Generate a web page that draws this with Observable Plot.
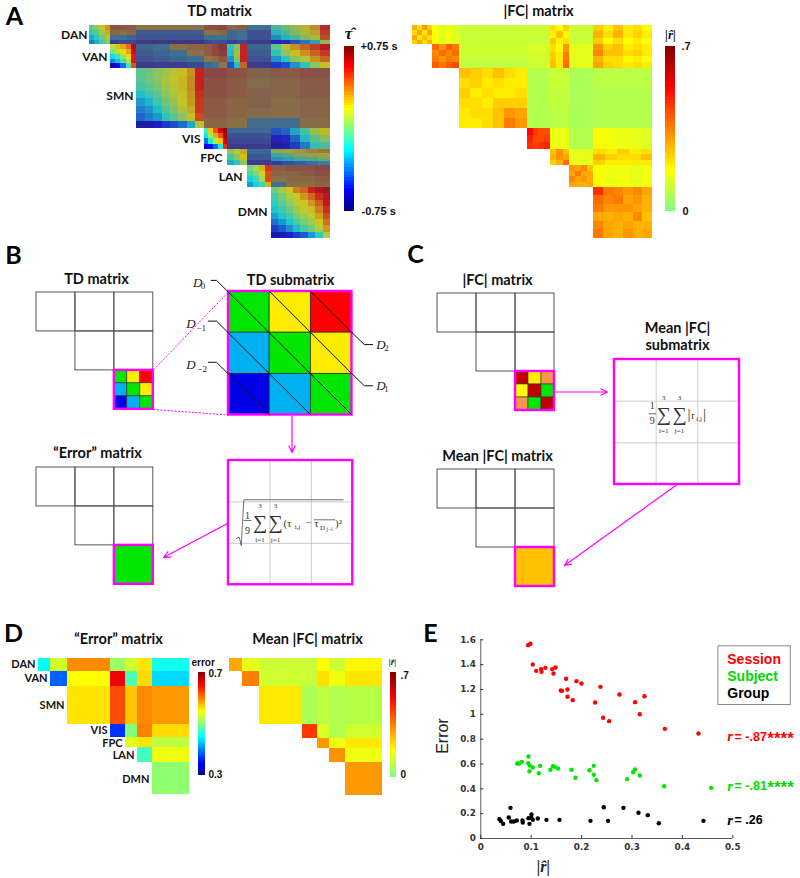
<!DOCTYPE html>
<html><head><meta charset="utf-8">
<style>html,body{margin:0;padding:0;background:#fff}#page{position:relative;width:800px;height:878px;overflow:hidden;background:#fff}</style>
<script src="https://cdn.jsdelivr.net/npm/d3@7"></script>
<script src="https://cdn.jsdelivr.net/npm/@observablehq/plot@0.6"></script>
</head><body><div id="page"></div>
<script>
// ---------- networks ----------
const netNames = ["DAN","VAN","SMN","VIS","FPC","LAN","DMN"];
const netSizes = [29,37,93,33,26,33,82];

// ---------- A: TD matrix, coarse values read per block (seconds); each row lists blocks from the diagonal rightwards ----------
const tdDAN = [
 [[-.05,.05,.2,.3],[-.15,-.05,.1,.25],[-.25,-.15,0,.15],[-.35,-.25,-.1,.05]],
 [[.45,.45,.4],[.35,.3,.35],[-.3,-.3,-.35],[-.55,-.5,-.5]],
 [[.3],[-.4],[-.45],[-.65]],
 [[.45,.45,.5],[.3,.3,.35],[-.3,-.3,-.3],[-.5,-.45,-.45]],
 [[.35,.4],[-.35,-.3],[-.35,-.3],[-.55,-.5]],
 [[-.3],[-.45],[-.45],[-.6]],
 [[-.1,0,.1,.2,.3,.55],[-.2,-.1,.05,.15,.25,.5],[-.3,-.2,-.1,.05,.15,.45],[-.6,-.55,-.45,-.35,-.25,.1]]
];
const tdVAN = [
 [[.1,.25,.3,.4,.65],[0,.1,.2,.3,.6],[-.2,-.1,.05,.2,.55],[-.35,-.25,-.1,.1,.55],[-.65,-.6,-.4,-.1,.45]],
 [[-.35,-.3,.3,.35],[-.4,-.35,-.3,.3],[-.45,-.4,-.35,-.3],[-.6,-.55,-.55,-.5]],
 [[.4,.5,.62],[.4,.5,.55],[.3,.35,.45],[-.35,-.3,.3]],
 [[-.15,.05,.55],[-.2,.1,.55],[-.3,.05,.55],[-.45,-.2,.4]],
 [[-.35],[-.4],[-.45],[-.6]],
 [[-.05,.15,.3,.4,.5,.6],[-.15,.05,.2,.3,.4,.5],[-.3,-.15,.05,.15,.3,.4],[-.5,-.45,-.3,-.15,.05,.2]]
];
const tdSMN = [
 [[-.05,0,.05,.1,.15,.2,.3,.55],[-.05,0,.05,.12,.18,.22,.32,.55],[-.1,-.05,.02,.1,.15,.22,.32,.55],[-.2,-.12,-.05,.05,.12,.2,.3,.52],[-.28,-.22,-.12,0,.08,.18,.28,.5],[-.35,-.3,-.2,-.08,.02,.12,.25,.5],[-.4,-.35,-.28,-.15,-.05,.05,.2,.45],[-.65,-.62,-.58,-.5,-.45,-.38,-.25,.15]],
 [[.5],[.45],[.45],[.4],[.4],[.35]],
 [[.45],[.4],[.4],[.35],[.35],[.3]],
 [[.35],[.3],[.35],[.35],[.3],[-.3]],
 [[.4,.45],[.35,.4],[.35,.4],[.3,.35],[.3,.35],[-.3,.3]]
];
const tdVIS = [
 [[-.1,.25,.45,.6,.72],[-.2,.05,.3,.45,.68],[-.4,-.15,.1,.25,.62],[-.6,-.55,-.4,-.15,.5]],
 [[-.35],[-.45],[-.5],[-.6]],
 [[-.35],[-.45],[-.5],[-.6]],
 [[-.45,-.4,-.25,-.1,.1,.2],[-.6,-.55,-.4,-.2,-.05,.05],[-.65,-.62,-.5,-.35,-.15,-.1]]
];
const tdFPC = [
 [[.05,.15,.25],[-.1,.05,.2],[-.25,-.15,.05]],
 [[-.35],[-.42],[-.55]],
 [[.1,.15,.25,.3,.35],[-.15,-.05,.05,.1,.15],[-.25,-.2,-.1,-.05,.05],[-.5,-.45,-.4,-.35,-.3]]
];
const tdLAN = [
 [[.0,.1,.25,.5],[-.1,0,.2,.45],[-.2,-.1,.1,.45],[-.3,-.2,-.1,.25]],
 [[.4,.45,.45,.5],[.35,.35,.4,.45],[.3,.35,.35,.4],[-.3,.3,.3,.35]]
];
const tdDMN = [
 [[0,.1,.2,.35,.4,.55,.62,.68],[-.1,0,.1,.2,.3,.4,.52,.62],[-.15,-.05,.05,.15,.2,.3,.42,.58],[-.2,-.12,-.02,.08,.15,.22,.35,.52],[-.28,-.2,-.1,0,.08,.15,.28,.45],[-.38,-.3,-.2,-.1,0,.08,.2,.38],[-.48,-.42,-.32,-.22,-.1,0,.12,.3],[-.65,-.62,-.55,-.48,-.42,-.3,-.15,.12]]
];
const tdRows = [tdDAN,tdVAN,tdSMN,tdVIS,tdFPC,tdLAN,tdDMN];
// how clearly a block's mean shows through its cell-level scatter
const tdClarity = [
 [.68,.3,.3,.3,.3,.3,.58],
 [.85,.3,.35,.65,.3,.66],
 [.66,.3,.3,.25,.28],
 [.9,.32,.32,.62],
 [.68,.32,.48],
 [.76,.3],
 [.7]
];

// ---------- A: |FC| matrix, coarse values ----------
const fcDAN = [
 [[.28,.22,.32,.24],[.22,.3,.2,.3],[.3,.2,.26,.22],[.24,.3,.22,.28]],
 [[.17,.13,.16,.13]], [[.1]], [[.1]],
 [[.22,.17,.24],[.19,.26,.17],[.25,.19,.22]],
 [[.1]],
 [[.24,.2,.26,.2,.22,.18],[.28,.22,.28,.2,.24,.2],[.24,.18,.22,.18,.2,.16]]
];
const fcVAN = [
 [[.38,.32,.4,.36],[.34,.38,.34,.38],[.36,.32,.36,.34],[.4,.36,.4,.42]],
 [[.11],[.1],[.09]], [[.12],[.11],[.11]],
 [[.22,.18,.32],[.24,.2,.36],[.26,.2,.38]],
 [[.14]],
 [[.32,.24,.26,.2,.22,.2],[.34,.26,.26,.22,.24,.2],[.28,.22,.22,.18,.2,.18],[.3,.24,.22,.2,.22,.2]]
];
const fcSMN = [
 [[.26,.24,.22,.26,.22,.2],[.22,.24,.2,.22,.2,.2],[.24,.2,.22,.2,.2,.22],[.22,.22,.2,.24,.24,.24],[.2,.22,.22,.26,.32,.3],[.2,.2,.22,.26,.36,.32]],
 [[.07]], [[.1],[.09],[.08]], [[.06]], [[.08],[.07],[.07]]
];
const fcVIS = [
 [[.52,.44,.42,.42],[.48,.42,.42,.44],[.46,.44,.46,.48]],
 [[.15]], [[.07]],
 [[.18,.16,.15,.15,.14,.13]]
];
const fcFPC = [
 [[.26,.32,.26],[.28,.32,.3],[.24,.28,.38]],
 [[.14]],
 [[.22,.2,.24,.2,.22],[.28,.24,.22,.22,.26],[.24,.2,.2,.2,.2]]
];
const fcLAN = [
 [[.32,.3,.34,.26],[.3,.36,.3,.3],[.34,.3,.32,.28],[.3,.28,.28,.3]],
 [[.17,.15,.16,.14,.16]]
];
const fcDMN = [
 [[.46,.36,.34,.32,.34,.3],[.38,.34,.36,.3,.32,.28],[.36,.32,.32,.32,.3,.28],[.3,.28,.3,.28,.34,.26],[.34,.3,.28,.3,.28,.28],[.36,.3,.28,.32,.28,.3]]
];
const fcRows = [fcDAN,fcVAN,fcSMN,fcVIS,fcFPC,fcLAN,fcDMN];

// ---------- D: block means ----------
const errorDAN = [.45,.532,.595,.512,.532,.56,.456];
const errorVAN = [.388,.55,.656,.48,.564,.436];
const errorSMN = [.56,.62,.572,.596,.59];
const errorVIS = [.369,.5,.6,.564];
const errorFPC = [.54,.56,.524];
const errorLAN = [.476,.544];
const errorDMN = [.506];
const meanDAN = [.294,.14,.105,.1,.175,.105,.185];
const meanVAN = [.35,.11,.1,.217,.155,.21];
const meanSMN = [.205,.06,.085,.07,.075];
const meanVIS = [.448,.125,.07,.11];
const meanFPC = [.315,.155,.205];
const meanLAN = [.325,.155];
const meanDMN = [.315];

// ---------- E: scatter ----------
const sessionR = [.0939,.0985,.1032,.1098,.1197,.1204,.1283,.1415,.1481,.1442,.1693,.1898,.1997,.1587,.1614,.172,.2374,.2751,.3062,.3247,.172,.1825,.2269,.2427,.2546,.3155,.3651,.4319];
const sessionE = [1.557,1.568,1.401,1.35,1.364,1.342,1.374,1.364,1.377,1.329,1.286,1.267,1.248,1.192,1.189,1.2,1.221,1.16,1.098,1.146,1.141,1.114,1.095,.972,.945,1.001,.883,.846];
const subjectR = [.0946,.0721,.0761,.0813,.0939,.0972,.1032,.0966,.1151,.1177,.1382,.1429,.1468,.1534,.1799,.1878,.2156,.2242,.2242,.2295,.2903,.3022,.3062,.3155,.3638,.457];
const subjectE = [.66,.604,.604,.617,.607,.588,.572,.542,.526,.585,.553,.583,.577,.564,.553,.489,.55,.585,.513,.47,.478,.534,.556,.507,.421,.408];
const groupR = [.037,.0397,.0443,.0556,.0589,.0602,.0655,.0714,.0827,.0833,.0946,.0966,.1005,.1005,.1032,.1131,.1303,.1561,.2176,.244,.2526,.2831,.3128,.3313,.3532,.4418];
const groupE = [.156,.14,.118,.169,.247,.137,.137,.145,.145,.129,.164,.118,.193,.166,.15,.161,.15,.15,.142,.252,.142,.247,.207,.188,.123,.142];
const legendNames = ["Session","Subject","Group"];
const legendValues = [1.44,1.305,1.165];
const rValues = ["= -.87","= -.81","= .26"];
const rStars = ["****","****",""];
const rHeights = [.82,.425,.15];
const xTicksE = [0,.1,.2,.3,.4,.5];
const yTicksE = [0,.2,.4,.6,.8,1,1.2,1.4,1.6];

// ---------- B / C: schematics ----------
const schemeRows = [0,0,0,1,1,2];
const schemeCols = [0,1,2,1,2,2];
const tdSubColors = ["#00e600","#ffec00","#ff0000","#00b0f0","#00e600","#ffec00","#0000e8","#00b0f0","#00e600"];
const fcSubColors = ["#c00000","#ffec00","#f79646","#ffff00","#c00000","#00e600","#f79646","#00e600","#c00000"];
const errorCellColor = ["#00e600"];
const meanCellColor = ["#ffc000"];
const diagonalPaths = [
 [[-.42,-.27],[-.29,-.27],[3,3]],
 [[-.49,.72],[-.29,.72],[2,3]],
 [[-.49,1.72],[-.29,1.72],[1,3]],
 [[1,0],[3,2],[3.3,2.29],[3.5,2.29]],
 [[2,0],[3,1],[3.3,1.29],[3.5,1.29]]
];
const diagonalLabels = [["D",-.75,-.2],["D",-.91,.78],["D",-.91,1.78],["D",3.7,2.3],["D",3.7,1.3]];
const diagonalSubs = [["0",-.62,-.13],["−1",-.66,.88],["−2",-.64,1.88],["1",3.84,2.38],["2",3.84,1.38]];

// ---------- helpers ----------
const page = document.getElementById("page");
function place(el,left,top){el.style.position="absolute";el.style.left=left+"px";el.style.top=top+"px";el.style.maxWidth="none";el.style.background="transparent";page.appendChild(el);return el;}
const netEdges = [0,...d3.cumsum(netSizes)];
const jetStops = ["#000080","#0000ff","#00ffff","#ffff00","#ff0000","#800000"];
const jetPos = [0,.125,.375,.625,.875,1];
const fullJet = (lo,hi)=>({type:"linear",domain:jetPos.map(t=>lo+t*(hi-lo)),range:jetStops});
const halfJet = (hi)=>({type:"linear",domain:[0,.125,.375,.5].map(t=>t/.5*hi),range:["#80ff80","#ffff00","#ff0000","#800000"]});
function matrixPlot(rows,clarity,color,xPx,yPx,blur){
  const xs=d3.scaleLinear(netEdges,xPx), ys=d3.scaleLinear(netEdges,yPx);
  const cells=[], blocks=[];
  rows.forEach((row,r)=>row.forEach((grid,k)=>{
    const c=r+k;
    blocks.push({x1:xs(netEdges[c]),x2:xs(netEdges[c+1]),y1:ys(netEdges[r]),y2:ys(netEdges[r+1])});
    grid.forEach((line,i)=>line.forEach((v,j)=>cells.push({
      x1:xs(netEdges[c]+netSizes[c]*j/line.length), x2:xs(netEdges[c]+netSizes[c]*(j+1)/line.length),
      y1:ys(netEdges[r]+netSizes[r]*i/grid.length), y2:ys(netEdges[r]+netSizes[r]*(i+1)/grid.length),
      v, o:clarity?clarity[r][k]:1})));
  }));
  const x0=xPx[0],x9=xPx.at(-1),y0=yPx[0],y9=yPx.at(-1);
  const el=Plot.plot({width:x9-x0,height:y9-y0,margin:0,
    x:{domain:[x0,x9],axis:null},
    y:{domain:[y0,y9],reverse:true,axis:null},
    color,opacity:{type:"identity"},
    marks:[
      clarity?Plot.rect(blocks,{x1:"x1",x2:"x2",y1:"y1",y2:"y2",fill:"#5a5464",shapeRendering:"crispEdges"}):null,
      Plot.rect(cells,{x1:"x1",x2:"x2",y1:"y1",y2:"y2",fill:"v",fillOpacity:"o",shapeRendering:"crispEdges"})
    ]});
  if(blur) el.style.filter=`blur(${blur}px)`;
  return place(el,x0,y0);
}
const colorSteps = d3.range(64);
function colorbar(color,lo,hi,left,top,w,h){
  const dv=(hi-lo)/64;
  return place(Plot.plot({width:w,height:h,margin:0,x:{domain:[0,1],axis:null},y:{domain:[lo,hi],axis:null},color,
    marks:[Plot.rect(colorSteps,{x1:0,x2:1,y1:i=>lo+i*dv,y2:i=>lo+(i+1)*dv,fill:i=>lo+(i+.5)*dv,shapeRendering:"crispEdges"})]}),left,top);
}
const outline="#555";
const magenta="#ff00ff";
function subCells(colors){
  const n=Math.sqrt(colors.length);
  return colors.map((c,i)=>({c,x1:(i%n)/n,x2:(i%n+1)/n,y1:Math.floor(i/n)/n,y2:(Math.floor(i/n)+1)/n}));
}
function miniMatrix(colors,left,top,size){
  const cells=schemeRows.map((r,i)=>({r,c:schemeCols[i]}));
  const sub=subCells(colors).map(d=>({...d,x1:2+d.x1,x2:2+d.x2,y1:2+d.y1,y2:2+d.y2}));
  return place(Plot.plot({width:size+8,height:size+8,marginLeft:4,marginRight:4,marginTop:4,marginBottom:4,
    x:{domain:[0,3],axis:null},y:{domain:[0,3],reverse:true,axis:null},
    marks:[
      Plot.rect(cells,{x1:"c",x2:d=>d.c+1,y1:"r",y2:d=>d.r+1,stroke:outline,strokeWidth:1,fill:"none"}),
      Plot.rect(sub,{x1:"x1",x2:"x2",y1:"y1",y2:"y2",fill:"c",stroke:sub.length>1?"#333":"none",strokeWidth:.6}),
      Plot.rect([0],{x1:2,x2:3,y1:2,y2:3,stroke:magenta,strokeWidth:2.4,fill:"none"})
    ]}),left-4,top-4);
}
function gridBox(left,top,size){
  const lines=[1,2];
  return place(Plot.plot({width:size+8,height:size+8,marginLeft:4,marginRight:4,marginTop:4,marginBottom:4,
    x:{domain:[0,3],axis:null},y:{domain:[0,3],reverse:true,axis:null},
    marks:[Plot.ruleX(lines,{y1:0,y2:3,stroke:"#ccc",strokeWidth:1}),Plot.ruleY(lines,{x1:0,x2:3,stroke:"#ccc",strokeWidth:1}),
      Plot.rect([0],{x1:0,x2:3,y1:0,y2:3,stroke:magenta,strokeWidth:2.4,fill:"none"})]}),left-4,top-4);
}

// ---------- A ----------
const tdColor=fullJet(-.75,.75), fcColor=halfJet(.7);
matrixPlot(tdRows,tdClarity,tdColor,[89,109.7,136.3,203.7,227.3,246.7,270.7,330],[25.3,44.7,68.3,128.3,149,165.7,187.3,238.3],.7);
matrixPlot(fcRows,null,fcColor,[412.3,432.3,459.3,527,550.3,569.3,593.3,652.7],[25.3,44.7,68.3,128.3,149,165.7,187.3,238.3],.5);
colorbar(tdColor,-.75,.75,344,46,10,164.7);
colorbar(fcColor,0,.7,665.3,46,10,164.7);

// ---------- D ----------
const asBlocks=rows=>rows.map(r=>r.map(v=>[[v]]));
const errColor=fullJet(.3,.7);
matrixPlot(asBlocks([errorDAN,errorVAN,errorSMN,errorVIS,errorFPC,errorLAN,errorDMN]),null,errColor,[38,50.3,67.3,110,125,137,152.3,189.3],[657.7,670.3,685.3,723.7,737,747,761.3,794.3],.4);
matrixPlot(asBlocks([meanDAN,meanVAN,meanSMN,meanVIS,meanFPC,meanLAN,meanDMN]),null,fcColor,[229,241.7,259.3,302.3,317,329,345,381.7],[657.7,670.3,685.3,723.7,737.7,747.7,761.3,795],.4);
colorbar(errColor,.3,.7,198,671.7,6.7,104);
colorbar(fcColor,0,.7,390,672,6,104.7);

// ---------- B ----------
miniMatrix(tdSubColors,36,291.7,116.8);
miniMatrix(errorCellColor,36,467,116.8);
{
  const sub=subCells(tdSubColors).map(d=>({...d,x1:d.x1*3,x2:d.x2*3,y1:d.y1*3,y2:d.y2*3}));
  const paths=diagonalPaths.flatMap((p,k)=>p.map(([x,y])=>({k,x,y})));
  const size=123.5,mL=50,mT=24;
  place(Plot.plot({width:size+2*mL,height:size+2*mT,marginLeft:mL,marginRight:mL,marginTop:mT,marginBottom:mT,
    x:{domain:[0,3],axis:null},y:{domain:[0,3],reverse:true,axis:null},
    marks:[
      Plot.rect(sub,{x1:"x1",x2:"x2",y1:"y1",y2:"y2",fill:"c",stroke:"#222",strokeWidth:.7}),
      Plot.rect([0],{x1:0,x2:3,y1:0,y2:3,stroke:magenta,strokeWidth:2.4,fill:"none"}),
      Plot.line(paths,{x:"x",y:"y",z:"k",stroke:"#111",strokeWidth:1,curve:"linear"}),
      Plot.text(diagonalLabels,{x:d=>d[1],y:d=>d[2],text:d=>d[0],fontFamily:"Liberation Serif",fontStyle:"italic",fontSize:13,fill:"#222"}),
      Plot.text(diagonalSubs,{x:d=>d[1],y:d=>d[2],text:d=>d[0],fontFamily:"Liberation Serif",fontSize:9,fill:"#222"})
    ]}),228-mL,291-mT);
}
gridBox(227.5,460.3,124.3);

// ---------- C ----------
miniMatrix(fcSubColors,437,293.3,117);
miniMatrix(meanCellColor,437,469,117);
gridBox(613.5,358.5,125);

// ---------- E ----------
{
  const pts=(xs,ys,g)=>xs.map((x,i)=>({x,y:ys[i],g}));
  const data=[...pts(groupR,groupE,"Group"),...pts(subjectR,subjectE,"Subject"),...pts(sessionR,sessionE,"Session")];
  const dark="#333";
  const colors={Session:"#ff0000",Subject:"#00e800",Group:"#000"};
  const textColors=["#ff0000","#00d800","#000"];
  const rows=legendNames.map((n,i)=>({n,c:textColors[i],v:legendValues[i],r:rValues[i],s:rStars[i],h:rHeights[i]}));
  place(Plot.plot({width:380,height:248,marginLeft:60.3,marginRight:67.7,marginTop:9.3,marginBottom:40,
    x:{domain:[0,.5],axis:null},y:{domain:[0,1.6],axis:null},
    marks:[
      Plot.axisX({ticks:xTicksE,tickFormat:d=>d===0?"0":String(d),tickSize:-3,tickPadding:8,fontFamily:"DejaVu Sans",fontWeight:"bold",fontSize:8.8,stroke:dark,fill:dark,label:null}),
      Plot.axisY({ticks:yTicksE,tickFormat:d=>String(d),tickSize:-3,tickPadding:8,fontFamily:"DejaVu Sans",fontWeight:"bold",fontSize:8.8,stroke:dark,fill:dark,label:null}),
      Plot.ruleX([0],{stroke:dark,strokeWidth:.8}),
      Plot.ruleY([0],{stroke:dark,strokeWidth:.8}),
      Plot.dot(data,{x:"x",y:"y",r:2.2,fill:d=>colors[d.g]}),
      Plot.rect([0],{x1:.4715,x2:.615,y1:1.075,y2:1.548,fill:"#fff",stroke:"#8a8a8a",strokeWidth:1}),
      Plot.text(rows,{x:.489,y:"v",text:"n",fill:"c",textAnchor:"start",fontFamily:"Liberation Sans",fontWeight:"bold",fontSize:14}),
      Plot.text(rows,{x:.489,y:"h",text:()=>"r",fill:"c",textAnchor:"start",fontFamily:"Liberation Serif",fontStyle:"italic",fontWeight:"bold",fontSize:15}),
      Plot.text(rows,{x:.5035,y:"h",text:"r",fill:"c",textAnchor:"start",fontFamily:"Liberation Sans",fontWeight:"bold",fontSize:12.5}),
      Plot.text(rows,{x:.5685,y:d=>d.h-.012,text:"s",fill:"c",textAnchor:"start",fontFamily:"Liberation Sans",fontWeight:"bold",fontSize:17}),
      Plot.text(["Error"],{x:-.0745,y:.825,rotate:-90,fontFamily:"Liberation Sans",fontSize:16,fill:"#222"}),
      Plot.text(["|r̂|"],{x:.124,y:-.225,fontFamily:"Liberation Serif",fontStyle:"italic",fontWeight:"bold",fontSize:16,fill:"#222"})
    ]}),420,630);
}

// ---------- page-level annotation layer ----------
const calibri="Lato, 'Noto Sans', sans-serif", serif="'Liberation Serif', serif";
const panelLetters=[["A",14,16],["B",13,255],["C",415,254],["D",13,633],["E",430,633]];
const titles=[["TD matrix",219,11],["|FC| matrix",538,11],["TD matrix",96,279],["TD submatrix",290,280],["“Error” matrix",97,453],["|FC| matrix",497,280],["Mean |FC|",677,328],["submatrix",677,345],["Mean |FC| matrix",497,456],["“Error” matrix",118,639],["Mean |FC| matrix",307,639]];
const netLabelsA=[["DAN",87,35],["VAN",107,57],["SMN",133,96],["VIS",200,139],["FPC",222,158],["LAN",242,177],["DMN",267,212]];
const netLabelsD=[["DAN",35,664],["VAN",47,678],["SMN",64,705],["VIS",107,730],["FPC",122,743],["LAN",134,755],["DMN",149,779]];
const barLabelsA=[["+0.75 s",360,46],["-0.75 s",361,211],[".7",681,46],["0",682,211]];
const barLabelsD=[["error",191,662],["0.7",208,673],["0.3",208,774],[".7",400,675],["0",400,774]];
const hatLabels=[["τ̂",348,33,17],["|r̂|",670,34,13],["|r̂|",392,662,9]];
const mathPieces=[
 ["1",247,515,10],["9",247,530,10],["3",259.5,505.5,7],["i=1",259.5,539,7],["3",275,505.5,7],["j=1",275,539,7],
 ["1",651.7,405.7,10],["9",651.7,420,10],["3",663.3,397.5,7],["i=1",663.3,430.5,7],["3",679,397.5,7],["j=1",679,430.5,7],
 ["∑",259.5,522,20],["∑",275,522,20],["∑",663.3,414,20],["∑",679,414,20],
 ["(τ",287,523,11],["i,j",297,526.5,7],["−",308,522.5,10],["τ",316,522.5,11],["D",322,527,7],["j−i",329,528.5,5.5],[")²",338,522.5,11],
 ["|",688.5,414,15],["r",692.5,415,10.5],["i,j",698.5,418,7],["|",704,414,15]
];
const magentaArrows=[[291.5,415.5,291.5,452],[227,523,163,557],[555.5,391.5,607,391.5],[676,484.5,564,565]];
const magentaDashes=[[153,369.3,228,291.5],[153,409,228,414.5]];
const mathRules=[[243,520,251,520],[648,413.3,655.5,413.3],[313.5,519.3,334.5,519.3]];
const radical=[[236,538],[238.7,536.7],[240.7,545],[243.3,499.3],[342.7,499.3]];
const tm=(rows,opts)=>Plot.text(rows,{x:d=>d[1],y:d=>d[2],text:d=>d[0],...opts});
place(Plot.plot({width:800,height:878,margin:0,x:{domain:[0,800],axis:null},y:{domain:[0,878],reverse:true,axis:null},
  marks:[
    tm(panelLetters,{fontFamily:calibri,fontWeight:"bold",fontSize:25,fill:"#000"}),
    tm(titles,{fontFamily:calibri,fontWeight:"bold",fontSize:14.5,fill:"#111"}),
    tm(netLabelsA,{fontFamily:calibri,fontWeight:"bold",fontSize:12,textAnchor:"end",fill:"#111"}),
    tm(netLabelsD,{fontFamily:calibri,fontWeight:"bold",fontSize:11,textAnchor:"end",fill:"#111"}),
    tm(barLabelsA,{fontFamily:"Liberation Sans",fontWeight:"bold",fontSize:11,textAnchor:"start",fill:"#111"}),
    tm(barLabelsD,{fontFamily:"Liberation Sans",fontWeight:"bold",fontSize:10,textAnchor:"start",fill:"#111"}),
    tm(hatLabels,{fontFamily:serif,fontWeight:"bold",fontStyle:"italic",fontSize:d=>d[3],fill:"#111"}),
    tm(mathPieces,{fontFamily:serif,fontSize:d=>d[3],fill:"#333"}),
    Plot.link(magentaDashes,{x1:d=>d[0],y1:d=>d[1],x2:d=>d[2],y2:d=>d[3],stroke:magenta,strokeWidth:1,strokeDasharray:"2,1.5"}),
    Plot.arrow(magentaArrows,{x1:d=>d[0],y1:d=>d[1],x2:d=>d[2],y2:d=>d[3],stroke:magenta,strokeWidth:1.2,headLength:9,headAngle:50}),
    Plot.link(mathRules,{x1:d=>d[0],y1:d=>d[1],x2:d=>d[2],y2:d=>d[3],stroke:"#333",strokeWidth:.7}),
    Plot.line(radical,{x:d=>d[0],y:d=>d[1],stroke:"#333",strokeWidth:.7,curve:"linear"})
  ]}),0,0).style.pointerEvents="none";
</script></body></html>
